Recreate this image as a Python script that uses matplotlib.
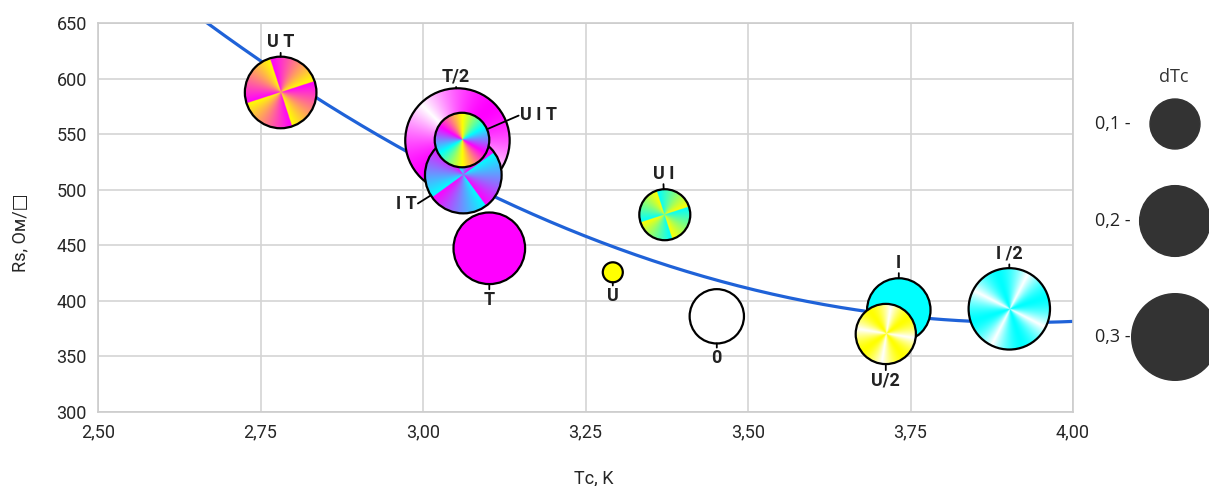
import numpy as np
import matplotlib
matplotlib.use('Agg')
import matplotlib.pyplot as plt
from matplotlib import transforms
from matplotlib.colors import to_rgb
from matplotlib.patches import Circle

# ---- data ----
labels = ['U T', 'T/2', 'I T', 'U I T', 'T', 'U', 'U I', '0', 'I', 'U/2', 'I /2']
tc = [2.781, 3.053, 3.062, 3.060, 3.102, 3.292, 3.372, 3.452, 3.732, 3.712, 3.902]
rs = [587.5, 544.3, 513.2, 544.7, 447.3, 425.7, 477.5, 386.1, 391.8, 370.2, 392.8]
dtc = [0.205, 0.436, 0.235, 0.119, 0.205, 0.016, 0.104, 0.118, 0.161, 0.145, 0.265]

legend_dtc = [0.1, 0.2, 0.3]
legend_labels = ['0,1 -', '0,2 -', '0,3 -']

xticks = [2.50, 2.75, 3.00, 3.25, 3.50, 3.75, 4.00]
xticklabels = ['2,50', '2,75', '3,00', '3,25', '3,50', '3,75', '4,00']
yticks = [300, 350, 400, 450, 500, 550, 600, 650]

# ---- styles ----
Y, C, M, W = '#ffff00', '#00ffff', '#ff00ff', '#ffffff'
# colours, repeats, wave shape, rotation (turns)
fills = {
    'U T': ([M, Y], 4, 'saw', 0.05),
    'T/2': ([M, W], 2, 'tri', 0.375),
    'I T': ([C, M], 4, 'saw', 0.1),
    'U I T': ([Y, C, M, Y], 2, 'saw', 0.0),
    'T': ([M], 1, 'saw', 0),
    'U': ([Y], 1, 'saw', 0),
    'U I': ([C, Y], 4, 'saw', 0.05),
    '0': ([W], 1, 'saw', 0),
    'I': ([C], 1, 'saw', 0),
    'U/2': ([Y, W], 4, 'tri', 0.1),
    'I /2': ([C, W], 4, 'tri', 0.05),
}
# label offset (points) and where the leader leaves the text box
label_pos = {
    'U T': ((0, 36), (0.5, 0)),
    'T/2': ((-1, 46), (0.5, 0)),
    'I T': ((-41, -21), (1, 0.5)),
    'U I T': ((55, 18), (0, 0.5)),
    'T': ((0, -37), (0.5, 1)),
    'U': ((0, -17), (0.5, 1)),
    'U I': ((-1, 29.5), (0.5, 0)),
    '0': ((0, -30), (0.5, 1)),
    'I': ((0, 34), (0.5, 0)),
    'U/2': ((0, -33.5), (0.5, 1)),
    'I /2': ((0, 39.5), (0.5, 0)),
}

DPI = 100


def radius_px(v):
    # bubble area proportional to dTc, 0.1 -> 25 px radius
    return 25 * np.sqrt(v / 0.1)


def conic(colors, reps, shape, rot, n=240):
    yy, xx = np.mgrid[-1:1:n * 1j, -1:1:n * 1j]
    ang = (np.arctan2(xx, yy) / (2 * np.pi) + rot) % 1.0
    cols = np.array([to_rgb(c) for c in colors])
    if len(cols) == 1:
        return np.ones((n, n, 3)) * cols[0]
    t = (ang * reps) % 1.0
    if shape == 'tri':
        t = (1 - np.abs(2 * t - 1)) ** 1.6
    t = t * (len(cols) - 1)
    i = np.minimum(np.floor(t).astype(int), len(cols) - 2)
    f = (t - i)[..., None]
    return cols[i] * (1 - f) + cols[i + 1] * f


fig = plt.figure(figsize=(12.09, 4.86), dpi=DPI)
ax = fig.add_axes([98 / 1209, 1 - 412 / 486, 975 / 1209, 389 / 486])

font_main = ['Roboto', 'DejaVu Sans']

# trend line (quadratic fit of the bubbles)
coef = np.polyfit(tc, rs, 2)
xs = np.linspace(2.5, 4.0, 400)
ax.plot(xs, np.polyval(coef, xs), color='#1f62d8', lw=2.3, zorder=2)

for k, lab in enumerate(labels):
    r_in = radius_px(dtc[k]) / DPI
    trans = fig.dpi_scale_trans + transforms.ScaledTranslation(tc[k], rs[k], ax.transData)
    z = 3 + k * 0.1
    cols, reps, shape, rot = fills[lab]
    im = ax.imshow(conic(cols, reps, shape, rot), extent=[-r_in, r_in, -r_in, r_in],
                   origin='lower', transform=trans, aspect='auto',
                   interpolation='bilinear', zorder=z)
    circ = Circle((0, 0), r_in, transform=trans, facecolor='none', edgecolor='black',
                  lw=1.6, zorder=z + 0.05)
    ax.add_patch(circ)
    im.set_clip_path(circ)
    (dx, dy), rel = label_pos[lab]
    ax.annotate(lab, xy=(tc[k], rs[k]), xytext=(dx, dy), textcoords='offset points',
                ha='center', va='center', fontsize=13, fontweight='bold', color='#222222',
                family=font_main, zorder=10,
                arrowprops=dict(arrowstyle='-', color='black', lw=1.3, patchA=None,
                                relpos=rel, shrinkA=1, shrinkB=radius_px(dtc[k]) * 0.72))

ax.set_xlim(2.5, 4.0)
ax.set_ylim(300, 650)
ax.set_xticks(xticks)
ax.set_xticklabels(xticklabels)
ax.set_yticks(yticks)
ax.grid(True, color='#d4d4d4', lw=1.2, zorder=0)
ax.set_axisbelow(True)
for s in ax.spines.values():
    s.set_color('#cccccc')
    s.set_linewidth(1.2)
ax.tick_params(length=0, pad=8, labelsize=13, labelcolor='#262626')
for t in ax.get_xticklabels() + ax.get_yticklabels():
    t.set_family(font_main)

ax.set_xlabel('Tc, K', fontsize=13, color='#262626', family=font_main)
ax.xaxis.set_label_coords((594 - 98) / 975, -(478 - 412) / 389)
ax.xaxis.label.set_va('center')
ax.set_ylabel('Rs, Ом/□', fontsize=13, color='#262626', family=font_main)
ax.yaxis.set_label_coords(-(98 - 20) / 975, 1 - (233 - 23) / 389)
ax.yaxis.label.set_va('center')

# size legend on the right, in pixel units
lax = fig.add_axes([1085 / 1209, 0, 124 / 1209, 1])
lax.set_xlim(1085, 1209)
lax.set_ylim(486, 0)
lax.axis('off')
leg_y = [124, 221, 337]
lax.text(1174, 77, 'dTc', ha='center', va='center', fontsize=13, color='#333333',
         family='Open Sans')
for v, lab, yy in zip(legend_dtc, legend_labels, leg_y):
    lax.add_patch(Circle((1175, yy), radius_px(v), color='#333333', clip_on=False))
    lax.text(1131, yy, lab, ha='right', va='center', fontsize=13, color='#222222',
             family='Open Sans')

fig.savefig('out.png', dpi=DPI)
